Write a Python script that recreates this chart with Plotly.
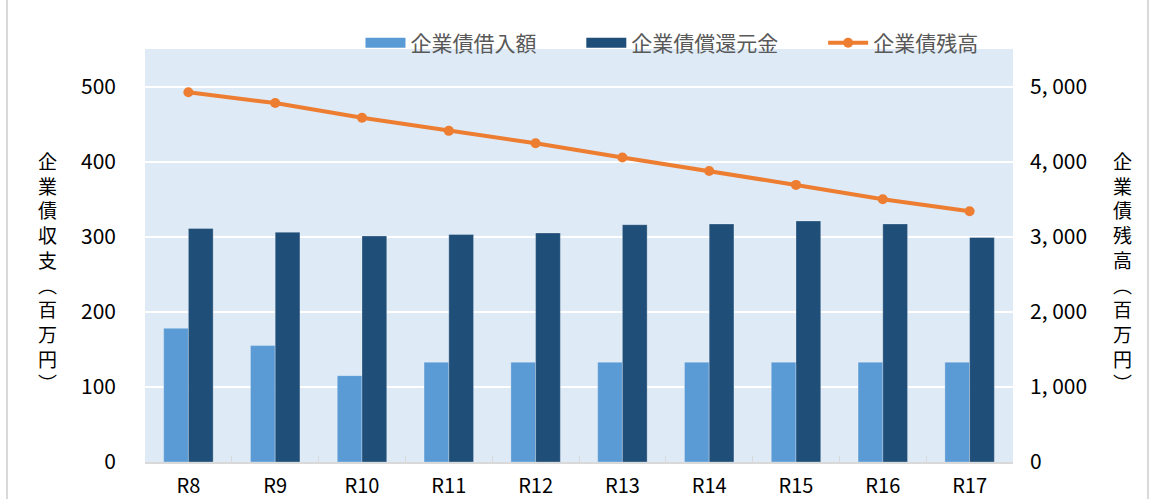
import plotly.graph_objects as go

categories = ["R8", "R9", "R10", "R11", "R12", "R13", "R14", "R15", "R16", "R17"]
borrowing = [178, 155, 115, 133, 133, 133, 133, 133, 133, 133]
repayment = [311, 306, 301, 303, 305, 316, 317, 321, 317, 299]
balance = [4925, 4780, 4585, 4410, 4245, 4055, 3875, 3690, 3500, 3340]

left_ticks = [0, 100, 200, 300, 400, 500]
right_ticks = [0, 1000, 2000, 3000, 4000, 5000]
right_ticktext = ["0", "1, 000", "2, 000", "3, 000", "4, 000", "5, 000"]

FONT = "Noto Sans CJK JP"
LIGHT = "#5B9BD5"
DARK = "#1F4E79"
ORANGE = "#ED7D31"
PAD = "\u3000\u00a0\u00a0\u00a0\u00a0"

fig = go.Figure()
fig.add_trace(go.Bar(
    x=categories, y=borrowing, name="企業債借入額", showlegend=False,
    marker=dict(color=LIGHT, line=dict(color="rgba(255,255,255,0.35)", width=0.8)),
))
fig.add_trace(go.Bar(
    x=categories, y=repayment, name="企業債償還元金", showlegend=False,
    marker=dict(color=DARK, line=dict(color="rgba(255,255,255,0.35)", width=0.8)),
))
fig.add_trace(go.Scatter(
    x=categories, y=balance, name="企業債残高", yaxis="y2",
    mode="lines+markers", showlegend=False,
    line=dict(color=ORANGE, width=4),
    marker=dict(color=ORANGE, size=10),
))
# legend entries (wide swatches like the reference)
fig.add_trace(go.Scatter(x=[None], y=[None], name="企業債借入額" + PAD, mode="lines",
                         line=dict(color=LIGHT, width=10)))
fig.add_trace(go.Scatter(x=[None], y=[None], name="企業債償還元金" + PAD, mode="lines",
                         line=dict(color=DARK, width=10)))
fig.add_trace(go.Scatter(x=[None], y=[None], name="企業債残高", mode="lines+markers",
                         line=dict(color=ORANGE, width=4), marker=dict(color=ORANGE, size=10)))

fig.update_layout(
    width=1155, height=499,
    margin=dict(l=145, r=142, t=49, b=36.5, autoexpand=False),
    paper_bgcolor="white",
    plot_bgcolor="#DEEAF6",
    barmode="group",
    bargap=0.43,
    bargroupgap=0,
    font=dict(family=FONT, size=18, color="#000000"),
    showlegend=True,
    legend=dict(
        orientation="h", x=0.5818, y=0.9138, xref="container", yref="container",
        xanchor="center", yanchor="middle",
        bgcolor="rgba(0,0,0,0)", font=dict(family=FONT, size=21, color="#595959"),
        traceorder="normal", itemwidth=40,
    ),
    xaxis=dict(
        type="category", automargin=False,
        categoryorder="array", categoryarray=categories,
        range=[-0.5, len(categories) - 0.5],
        showgrid=False,
        showline=True, linecolor="#D9D9D9", linewidth=1.5,
        ticks="inside", tickson="boundaries", ticklen=6, tickcolor="#D9D9D9",
        tickfont=dict(family=FONT, size=20, color="#000000"),
        ticklabelstandoff=5,
    ),
    yaxis=dict(
        range=[0, 550], automargin=False,
        tickvals=left_ticks,
        showgrid=True, gridcolor="white", gridwidth=2,
        zeroline=False, showline=False,
        tickfont=dict(family=FONT, size=21, color="#000000"),
        ticklabelstandoff=28,
    ),
    yaxis2=dict(
        range=[0, 5500], automargin=False,
        overlaying="y", side="right",
        tickvals=right_ticks, ticktext=right_ticktext,
        showgrid=False, zeroline=False, showline=False,
        tickfont=dict(family=FONT, size=21, color="#000000"),
        ticklabelstandoff=16,
    ),
)

left_title = "<br>".join(list("企業債収支︵百万円︶"))
right_title = "<br>".join(list("企業債残高︵百万円︶"))
fig.add_annotation(
    text=left_title, xref="paper", yref="paper", x=-0.1129, y=0.4607,
    xanchor="center", yanchor="middle", showarrow=False,
    font=dict(family=FONT, size=19, color="#000000"),
)
fig.add_annotation(
    text=right_title, xref="paper", yref="paper", x=1.1267, y=0.4607,
    xanchor="center", yanchor="middle", showarrow=False,
    font=dict(family=FONT, size=19, color="#000000"),
)

for xp in [-0.159, 1.1555]:
    fig.add_shape(type="line", xref="paper", yref="paper",
                  x0=xp, x1=xp, y0=-0.2, y1=1.2,
                  line=dict(color="#D9D9D9", width=2))

fig.write_html("out.html", config={"displayModeBar": False},
               post_script="document.body.style.margin='0';document.body.style.padding='0';")
